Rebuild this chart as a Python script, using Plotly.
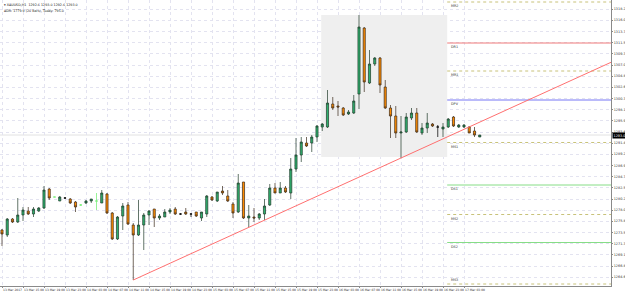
import plotly.graph_objects as go
import numpy as np

# ---- data (H1 candles) ----
opens = [1274.0, 1273.0, 1276.2, 1275.6, 1277.0, 1277.8, 1277.2, 1277.8, 1278.4, 1282.2,
         1280.6, 1279.8, 1280.4, 1280.2, 1279.6, 1279.0, 1279.4, 1279.8, 1279.8, 1279.4,
         1281.2, 1277.4, 1272.2, 1276.8, 1279.0, 1275.0, 1273.0, 1275.0, 1277.0, 1278.2,
         1276.4, 1276.6, 1277.6, 1278.2, 1277.2, 1277.6, 1277.2, 1277.6, 1276.4, 1277.2,
         1280.6, 1279.8, 1281.8, 1280.8, 1279.2, 1277.6, 1283.6, 1276.4, 1276.6, 1276.4,
         1277.2, 1279.0, 1282.4, 1281.4, 1282.4, 1281.4, 1286.2, 1289.0, 1291.4, 1291.4,
         1292.6, 1294.6, 1294.6, 1299.2, 1298.8, 1298.4, 1297.2, 1297.4, 1301.2, 1314.4,
         1303.4, 1307.2, 1308.4, 1302.6, 1298.4, 1296.8, 1293.4, 1293.6, 1296.4, 1297.4,
         1293.4, 1294.4, 1295.2, 1294.6, 1294.2, 1294.6, 1296.6, 1294.6, 1294.6, 1294.6,
         1293.8, 1292.6]
highs = [1274.2, 1276.4, 1276.4, 1280.4, 1278.6, 1278.6, 1278.6, 1278.6, 1282.8, 1282.4,
         1280.6, 1280.8, 1280.6, 1280.4, 1279.8, 1279.2, 1280.0, 1280.2, 1281.4, 1282.0,
         1281.4, 1277.6, 1276.8, 1279.4, 1279.6, 1275.4, 1280.0, 1277.4, 1278.0, 1278.2,
         1277.2, 1278.2, 1278.4, 1278.6, 1277.4, 1278.4, 1277.4, 1277.6, 1277.6, 1281.0,
         1280.8, 1281.6, 1282.8, 1282.0, 1279.6, 1285.2, 1283.6, 1279.0, 1278.4, 1277.4,
         1280.2, 1283.2, 1283.4, 1283.6, 1282.8, 1288.4, 1292.4, 1292.6, 1292.6, 1293.0,
         1295.0, 1295.4, 1302.0, 1300.6, 1299.8, 1298.6, 1298.0, 1301.0, 1317.0, 1314.6,
         1310.0, 1308.6, 1308.6, 1304.0, 1299.0, 1298.8, 1296.8, 1297.4, 1298.4, 1298.4,
         1295.4, 1297.4, 1295.4, 1295.0, 1295.4, 1296.4, 1296.8, 1295.2, 1295.2, 1294.8,
         1294.6, 1293.0]
lows = [1270.8, 1272.6, 1275.4, 1275.4, 1275.8, 1277.0, 1276.6, 1277.6, 1278.2, 1280.0,
        1280.6, 1279.8, 1280.2, 1279.2, 1277.6, 1278.8, 1279.2, 1279.4, 1278.0, 1279.4,
        1277.2, 1272.0, 1272.0, 1274.0, 1275.0, 1264.0, 1272.8, 1270.0, 1275.0, 1274.6,
        1276.0, 1276.6, 1277.2, 1277.0, 1277.0, 1277.0, 1276.6, 1276.6, 1275.8, 1276.6,
        1279.8, 1279.6, 1281.0, 1279.6, 1276.4, 1277.4, 1276.2, 1274.6, 1275.6, 1276.0,
        1276.0, 1278.8, 1281.4, 1281.4, 1281.4, 1280.2, 1285.6, 1287.6, 1290.6, 1289.6,
        1291.6, 1293.8, 1294.4, 1298.0, 1296.8, 1296.8, 1297.0, 1297.2, 1298.2, 1301.6,
        1303.2, 1306.8, 1301.4, 1298.2, 1292.4, 1292.4, 1288.4, 1293.4, 1296.0, 1293.4,
        1293.0, 1293.4, 1294.6, 1292.6, 1292.6, 1294.4, 1294.6, 1294.4, 1294.4, 1293.4,
        1292.6, 1292.6]
closes = [1273.2, 1276.2, 1275.6, 1277.0, 1278.0, 1277.2, 1278.2, 1278.4, 1282.0, 1280.4,
          1280.6, 1280.6, 1280.4, 1279.4, 1278.6, 1279.0, 1279.8, 1280.2, 1279.8, 1281.4,
          1277.4, 1272.2, 1276.6, 1278.8, 1275.2, 1273.0, 1275.0, 1277.0, 1277.8, 1276.4,
          1276.8, 1277.6, 1278.0, 1277.2, 1277.2, 1277.2, 1277.2, 1276.8, 1277.6, 1280.8,
          1280.0, 1281.6, 1281.4, 1279.8, 1277.4, 1283.4, 1276.4, 1276.8, 1276.4, 1277.2,
          1278.8, 1282.4, 1281.4, 1282.4, 1281.6, 1286.2, 1289.0, 1291.6, 1290.8, 1292.6,
          1294.8, 1295.2, 1299.4, 1298.4, 1298.6, 1297.0, 1297.6, 1299.8, 1314.6, 1303.6,
          1307.2, 1308.4, 1303.0, 1298.4, 1296.8, 1293.4, 1293.6, 1296.6, 1297.4, 1293.6,
          1294.4, 1295.4, 1294.8, 1294.6, 1294.6, 1296.2, 1294.8, 1295.0, 1295.0, 1293.4,
          1293.0, 1293.0]
bar_index = list(range(len(opens)))
light_doji_bars = [10, 15, 18]
dark_doji_bars = [12, 34, 36, 83]

date_label_bars = [0, 4, 8, 12, 16, 20, 24, 28, 32, 36, 40, 44, 48, 52, 56, 60, 64, 68, 72, 76, 80, 84, 88]
date_labels = ["13 Mar 2017", "13 Mar 15:00", "13 Mar 19:00", "13 Mar 23:00", "14 Mar 03:00",
               "14 Mar 07:00", "14 Mar 11:00", "14 Mar 15:00", "14 Mar 19:00", "14 Mar 23:00",
               "15 Mar 03:00", "15 Mar 07:00", "15 Mar 11:00", "15 Mar 15:00", "15 Mar 19:00",
               "15 Mar 23:00", "16 Mar 03:00", "16 Mar 07:00", "16 Mar 11:00", "16 Mar 15:00",
               "16 Mar 19:00", "16 Mar 23:00", "17 Mar 03:00"]
price_labels = ["1318.2", "1316.0", "1313.7", "1311.5", "1309.3", "1307.0", "1304.8", "1302.6",
                "1300.3", "1298.1", "1295.9", "1293.6", "1291.4", "1289.2", "1286.9", "1284.7",
                "1282.5", "1280.2", "1278.0", "1275.8", "1273.5", "1271.3", "1269.1", "1266.8",
                "1264.6"]
bottom_price_label = "1262.4"

pivot_names = ["MR2", "DR1", "MR1", "DPV", "MS1", "DS1", "MS2", "DS2", "MS3"]
pivot_levels = [1319.6, 1311.4, 1305.8, 1300.0, 1291.5, 1283.0, 1277.1, 1271.5, 1263.2]
pivot_colors = ["#c8c27a", "#f07a7a", "#c8c27a", "#7676f5", "#c8c27a", "#86dd86", "#c8c27a", "#86dd86", "#c8c27a"]
pivot_dash = ["dot", "solid", "dot", "solid", "dot", "solid", "dot", "solid", "dot"]
pivot_start_bar = 84.8
zone_bars = [60.8, 84.8]
zone_prices = [1288.6, 1317.0]
trend_anchor_bars = [25, 76]

header_line1 = "\u25be XAUUSD,H1  1292.6 1293.0 1292.6 1293.0"
header_line2 = "ADR: 1779.9 (20 Bars), Today: 795.0"

# ---- build ----
X_MIN, X_MAX = -0.38, 116.0
Y_MIN, Y_MAX = 1262.8, 1320.0

o = np.array(opens); h = np.array(highs); l = np.array(lows); c = np.array(closes)
xi = np.array(bar_index)
special = set(light_doji_bars) | set(dark_doji_bars)
main_mask = np.array([i not in special for i in bar_index])

fig = go.Figure()
fig.add_trace(go.Candlestick(
    x=xi[main_mask], open=o[main_mask], high=h[main_mask], low=l[main_mask], close=c[main_mask],
    increasing=dict(fillcolor="#2fb06e", line=dict(color="#1f3a2a", width=0.7)),
    decreasing=dict(fillcolor="#ff8c00", line=dict(color="#3a2a1a", width=0.7)),
    whiskerwidth=0, showlegend=False, hoverinfo="skip"))
for bars, col in [(light_doji_bars, "#7cf07c"), (dark_doji_bars, "#111111")]:
    m = np.array(bars)
    fig.add_trace(go.Candlestick(
        x=xi[m], open=o[m], high=h[m], low=l[m], close=c[m],
        increasing=dict(fillcolor=col, line=dict(color=col, width=0.8)),
        decreasing=dict(fillcolor=col, line=dict(color=col, width=0.8)),
        whiskerwidth=0, showlegend=False, hoverinfo="skip"))

shapes = []
shapes.append(dict(type="rect", xref="x", yref="y", x0=zone_bars[0], x1=zone_bars[1],
                   y0=zone_prices[0], y1=zone_prices[1], fillcolor="#efefef",
                   line=dict(width=0), layer="between"))
last_close = closes[-1]
shapes.append(dict(type="line", xref="paper", yref="y", x0=0, x1=1, y0=last_close, y1=last_close,
                   line=dict(color="#e2e2e2", width=1), layer="between"))
annotations = []
for k, (name, lev, col, dsh) in enumerate(zip(pivot_names, pivot_levels, pivot_colors, pivot_dash)):
    shapes.append(dict(type="line", xref="x", yref="y", x0=pivot_start_bar, x1=X_MAX, y0=lev, y1=lev,
                       line=dict(color=col, width=1, dash=dsh)))
    last = k == len(pivot_names) - 1
    annotations.append(dict(x=pivot_start_bar + 0.3, y=lev, xref="x", yref="y", text=name,
                            showarrow=False, xanchor="left", yanchor="bottom" if last else "top",
                            font=dict(size=3.4, color="#333333")))
b0, b1 = trend_anchor_bars
slope = (lows[b1] - lows[b0]) / (b1 - b0)
shapes.append(dict(type="line", xref="x", yref="y", x0=b0, x1=X_MAX, y0=lows[b0],
                   y1=lows[b0] + slope * (X_MAX - b0), line=dict(color="#ff7070", width=1)))

annotations.append(dict(x=1, y=last_close, xref="paper", yref="y", text="%.1f" % last_close,
                        showarrow=False, xanchor="left", yanchor="middle", bgcolor="#000000",
                        font=dict(size=3.4, color="#ffffff"), borderpad=0.5, xshift=1))
annotations.append(dict(x=1, y=float(bottom_price_label), xref="paper", yref="y",
                        text=bottom_price_label, showarrow=False, xanchor="left", yanchor="middle",
                        font=dict(size=3.4, color="#333333"), xshift=1))
annotations.append(dict(x=0.004, y=0.995, xref="paper", yref="paper", text=header_line1,
                        showarrow=False, xanchor="left", yanchor="top", font=dict(size=3.3, color="#222222")))
annotations.append(dict(x=0.004, y=0.975, xref="paper", yref="paper", text=header_line2,
                        showarrow=False, xanchor="left", yanchor="top", font=dict(size=3.3, color="#222222")))

grid = "#e3e3f0"
fig.update_layout(
    width=625, height=294, margin=dict(l=0, r=14, t=0, b=8),
    paper_bgcolor="#ffffff", plot_bgcolor="#ffffff",
    font=dict(family="DejaVu Sans", color="#333333"),
    boxgap=0.42, showlegend=False,
    shapes=shapes, annotations=annotations,
    xaxis=dict(range=[X_MIN, X_MAX], tickmode="array", tickvals=date_label_bars, ticktext=date_labels,
               ticklabelposition="outside right", tickfont=dict(size=3.0, color="#333333"),
               tickangle=0, ticks="outside", ticklen=1, tickcolor="#888888",
               showgrid=True, gridcolor=grid, griddash="dot", gridwidth=1,
               showline=True, linecolor="#8a8a8a", linewidth=1, mirror=True,
               zeroline=False, rangeslider=dict(visible=False), automargin=False, fixedrange=True),
    yaxis=dict(range=[Y_MIN, Y_MAX], side="right", tickmode="array",
               tickvals=[float(s) for s in price_labels], ticktext=price_labels,
               tickfont=dict(size=3.4, color="#333333"), ticks="outside", ticklen=1, tickcolor="#888888",
               showgrid=True, gridcolor=grid, griddash="dot", gridwidth=1,
               showline=True, linecolor="#8a8a8a", linewidth=1, mirror=True,
               zeroline=False, automargin=False, fixedrange=True),
)

fig.write_html("out.html")
